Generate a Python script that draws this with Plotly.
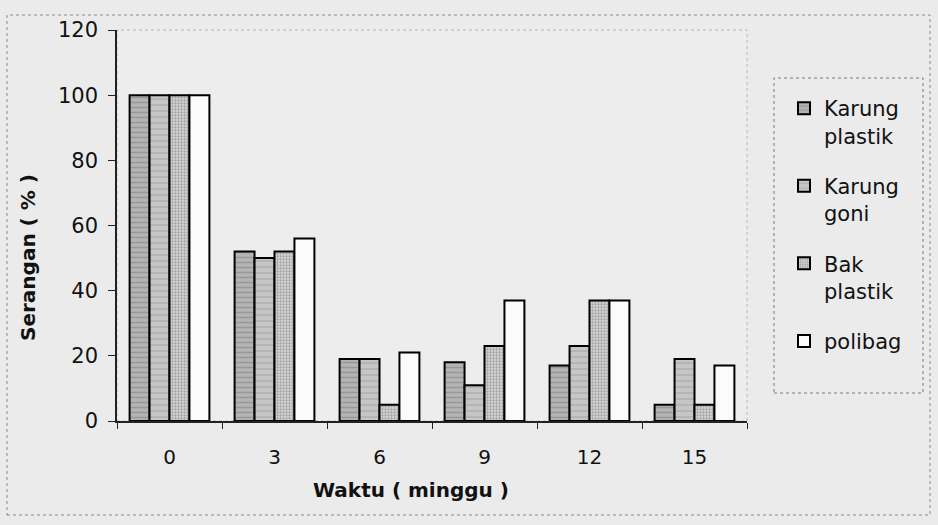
import plotly.graph_objects as go

# Attack rate (%) of stored material over time, by storage container
weeks = ["0", "3", "6", "9", "12", "15"]
karung_plastik = [100, 52, 19, 18, 17, 5]
karung_goni = [100, 50, 19, 11, 23, 19]
bak_plastik = [100, 52, 5, 23, 37, 5]
polibag = [100, 56, 21, 37, 37, 17]
y_ticks = [0, 20, 40, 60, 80, 100, 120]

series = [
    ("Karung<br>plastik", karung_plastik, "#b4b4b4", "-", "#7c7c7c", 5, 0.3),
    ("Karung<br>goni", karung_goni, "#c6c6c6", "-", "#9a9a9a", 6, 0.25),
    ("Bak<br>plastik", bak_plastik, "#d6d6d6", ".", "#6e6e6e", 3, 0.45),
    ("polibag", polibag, "#fbfbfb", "", "#000000", 8, 0.1),
]

fig = go.Figure()
for i, (name, vals, col, shape, fg, size, sol) in enumerate(series):
    fig.add_trace(go.Bar(
        x=weeks, y=vals, name=name, legendgroup=f"g{i}",
        marker=dict(
            color=col,
            line=dict(color="#000000", width=2),
            pattern=dict(shape=shape, fgcolor=fg, size=size, solidity=sol),
        ),
    ))

W, H = 938, 525
L, R, T, B = 117, 191, 30, 104
pw, ph = W - L - R, H - T - B


def px(x):
    return (x - L) / pw


def py(y):
    return (H - B - y) / ph


font_family = "DejaVu Sans"

fig.update_layout(
    width=W, height=H,
    margin=dict(l=L, r=R, t=T, b=B),
    paper_bgcolor="#ebebeb",
    plot_bgcolor="#ededed",
    barmode="group",
    bargap=0.24,
    bargroupgap=0,
    font=dict(family=font_family, size=20, color="#111111"),
    showlegend=True,
    legend=dict(
        x=px(784), y=py(88), xanchor="left", yanchor="top",
        bgcolor="rgba(0,0,0,0)", borderwidth=0, valign="top",
        font=dict(family=font_family, size=21, color="#111111"),
        traceorder="grouped", tracegroupgap=20,
    ),
    xaxis=dict(
        type="category",
        showline=True, linecolor="#222222", linewidth=1.5,
        ticks="outside", tickson="boundaries", ticklen=6,
        tickcolor="#222222", tickwidth=1,
        ticklabelstandoff=17,
        tickfont=dict(family=font_family, size=20),
        showgrid=False, zeroline=False,
    ),
    yaxis=dict(
        range=[0, 120], tickvals=y_ticks,
        showline=True, linecolor="#222222", linewidth=1.5,
        ticks="outside", ticklen=7, tickcolor="#222222", tickwidth=1,
        ticklabelstandoff=6,
        tickfont=dict(family=font_family, size=21),
        showgrid=False, zeroline=False,
    ),
    annotations=[
        dict(text="<b>Waktu ( minggu )</b>", xref="paper", yref="paper",
             x=px(411), y=py(490), xanchor="center", yanchor="middle",
             showarrow=False, font=dict(family=font_family, size=20)),
        dict(text="<b>Serangan ( % )</b>", xref="paper", yref="paper",
             x=px(28), y=py(258), xanchor="center", yanchor="middle",
             textangle=-90, showarrow=False,
             font=dict(family=font_family, size=20)),
    ],
    shapes=[
        # outer chart frame
        dict(type="rect", xref="paper", yref="paper",
             x0=px(7), x1=px(930), y0=py(515), y1=py(15),
             line=dict(color="#8a8a8a", width=1, dash="dot"), layer="below"),
        # plot area frame
        dict(type="rect", xref="paper", yref="paper",
             x0=0, x1=1, y0=0, y1=1,
             line=dict(color="#b5b5b5", width=1, dash="dot"), layer="below"),
        # legend frame
        dict(type="rect", xref="paper", yref="paper",
             x0=px(774), x1=px(923), y0=py(393), y1=py(78),
             line=dict(color="#7a7a7a", width=1, dash="dot"),
             fillcolor="rgba(0,0,0,0)", layer="below"),
    ],
)

fig.write_html("out.html")
